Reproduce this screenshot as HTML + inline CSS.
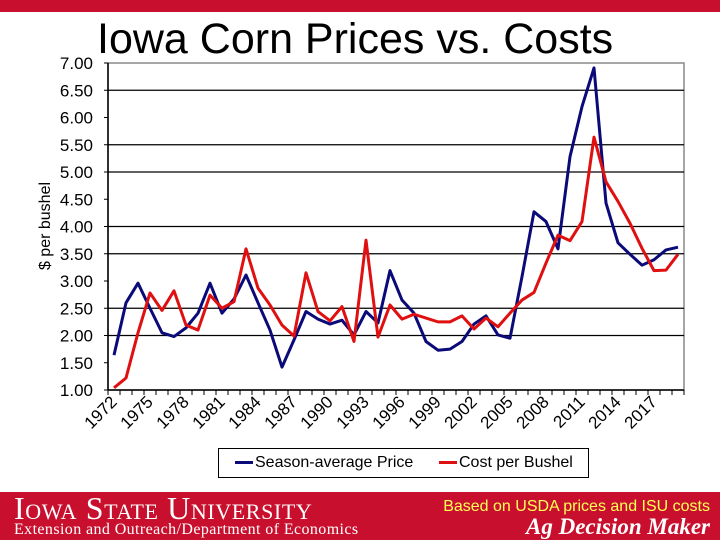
<!DOCTYPE html>
<html><head><meta charset="utf-8"><style>
body{margin:0;width:720px;height:540px;background:#fff;overflow:hidden;position:relative;font-family:"Liberation Sans",sans-serif}
</style></head><body>
<div style="position:absolute;left:0;top:0;width:720px;height:12px;background:#c8102e"></div>
<div style="position:absolute;left:97px;top:16px;font-size:43px;line-height:46px;color:#000">Iowa Corn Prices vs. Costs</div>
<svg id="chart" width="720" height="540" style="position:absolute;left:0;top:0"></svg>
<div style="position:absolute;left:218px;top:448px;width:369px;height:28px;border:1px solid #000;background:#fff;font-size:16px;line-height:28px">
 <span style="position:absolute;left:16px"><span style="display:inline-block;width:18px;height:3px;background:#0a0a78;vertical-align:middle;margin-right:2px"></span>Season-average Price</span>
 <span style="position:absolute;left:220px"><span style="display:inline-block;width:18px;height:3px;background:#e01010;vertical-align:middle;margin-right:2px"></span>Cost per Bushel</span>
</div>
<div style="position:absolute;left:0;top:492px;width:720px;height:48px;background:#c8102e;color:#fff">
 <div style="position:absolute;left:14px;top:0px;font-family:'Liberation Serif',serif;font-size:32px;line-height:32px;font-variant:small-caps;letter-spacing:0.6px">Iowa State University</div>
 <div style="position:absolute;left:14px;top:28px;font-family:'Liberation Serif',serif;font-size:16px;line-height:19px;letter-spacing:0.4px">Extension and Outreach/Department of Economics</div>
 <div style="position:absolute;right:10px;top:5px;font-size:16px;line-height:20px;color:#ffff55">Based on USDA prices and ISU costs</div>
 <div style="position:absolute;right:10px;top:22px;font-family:'Liberation Serif',serif;font-style:italic;font-weight:bold;font-size:23px;line-height:26px">Ag Decision Maker</div>
</div>
<script>
const years=[];for(let y=1972;y<=2019;y++)years.push(y);
const price=[1.64,2.60,2.96,2.50,2.05,1.98,2.14,2.41,2.96,2.41,2.67,3.11,2.60,2.10,1.42,1.92,2.44,2.30,2.21,2.28,2.01,2.44,2.23,3.19,2.65,2.41,1.89,1.73,1.75,1.89,2.21,2.36,2.01,1.95,3.08,4.27,4.09,3.59,5.28,6.20,6.91,4.43,3.70,3.49,3.29,3.39,3.57,3.62];
const cost=[1.04,1.22,2.05,2.78,2.46,2.82,2.19,2.10,2.74,2.50,2.62,3.59,2.87,2.56,2.19,1.99,3.15,2.44,2.27,2.53,1.89,3.75,1.97,2.56,2.30,2.39,2.32,2.25,2.25,2.36,2.12,2.32,2.16,2.41,2.65,2.79,3.33,3.84,3.74,4.09,5.64,4.82,4.46,4.06,3.60,3.19,3.20,3.49];
const yTicks=[1,1.5,2,2.5,3,3.5,4,4.5,5,5.5,6,6.5,7];
const gridVals=[2,2.5,3.5,4,5,5.5,6.5];
const L=108,R=684,T=63,B=390,yMin=1,yMax=7;
const step=(R-L)/years.length;
const xs=i=>L+step*(i+0.5);
const ys=v=>B-(v-yMin)/(yMax-yMin)*(B-T);
const svg=document.getElementById('chart');const NS='http://www.w3.org/2000/svg';
function mk(t,a){const e=document.createElementNS(NS,t);for(const k in a)e.setAttribute(k,a[k]);svg.appendChild(e);return e;}
const frame=mk('rect',{x:L,y:T,width:R-L,height:B-T,fill:'none',stroke:'#888','stroke-width':1.5});


gridVals.forEach(v=>{const g=mk('line',{x1:L,x2:R,y1:ys(v),y2:ys(v),stroke:'#000','stroke-width':1.3});

});
const ya=mk('line',{x1:L,x2:L,y1:T,y2:B,stroke:'#000','stroke-width':1.5});


const xa=mk('line',{x1:L,x2:R,y1:B,y2:B,stroke:'#000','stroke-width':1.5});


yTicks.forEach(v=>{mk('line',{x1:L-4,x2:L,y1:ys(v),y2:ys(v),stroke:'#000'});
const t=mk('text',{x:93,y:ys(v)+6,'text-anchor':'end','font-size':17,'font-family':'Liberation Sans, sans-serif'});t.textContent=v.toFixed(2);

});
for(let i=0;i<=years.length;i++)mk('line',{x1:L+step*i,x2:L+step*i,y1:B,y2:B+5,stroke:'#000'});
years.forEach((yr,i)=>{if((yr-1972)%3)return;const x=xs(i)+4,y=B+13;
const t=mk('text',{x:x,y:y,'text-anchor':'end','font-size':17,'font-family':'Liberation Sans, sans-serif',transform:`rotate(-45 ${x} ${y})`});t.textContent=yr;

});
const yt=mk('text',{x:0,y:0,'text-anchor':'middle','font-size':16,'font-family':'Liberation Sans, sans-serif',transform:'translate(50 226) rotate(-90)'});yt.textContent='$ per bushel';


function line(arr,color,name){const p=mk('polyline',{points:arr.map((v,i)=>xs(i)+','+ys(v)).join(' '),fill:'none',stroke:color,'stroke-width':3,'stroke-linejoin':'round'});

}
line(price,'#0a0a78','price-line');
line(cost,'#e01010','cost-line');
</script>
</body></html>
